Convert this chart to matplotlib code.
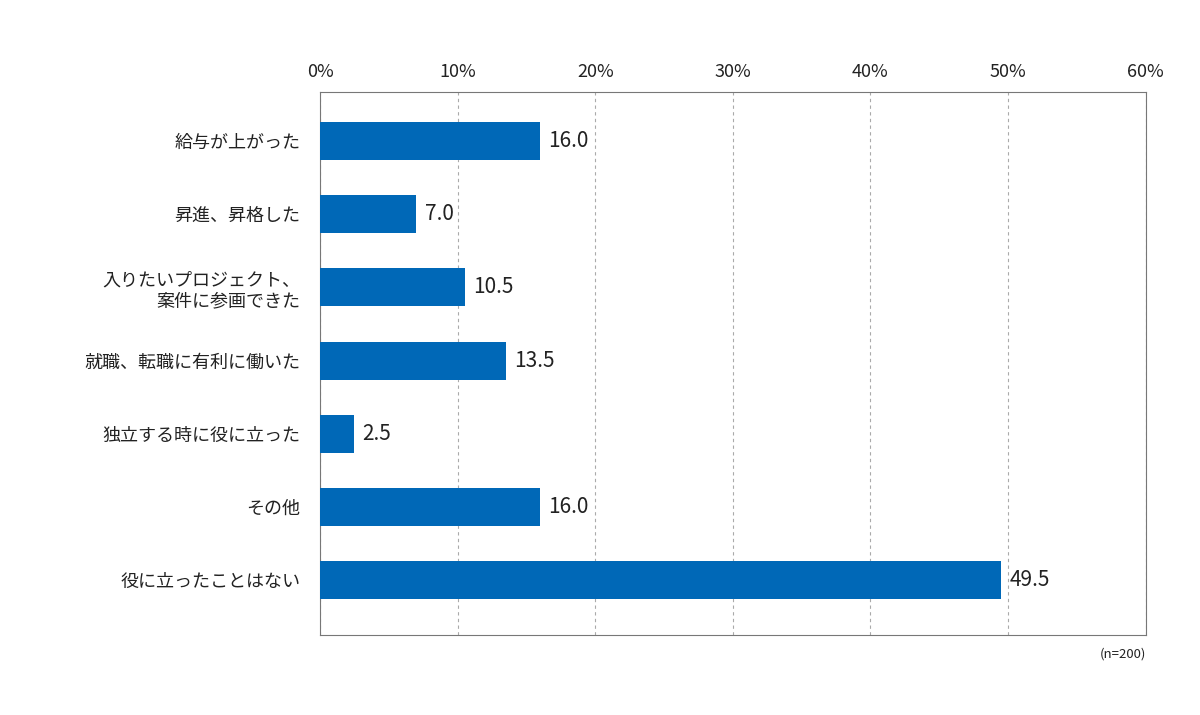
import matplotlib

matplotlib.use("Agg")

import matplotlib.pyplot as plt
from matplotlib.ticker import PercentFormatter

plt.rcParams["font.family"] = ["Noto Sans CJK JP", "DejaVu Sans"]

BAR_BLUE = "#0068B7"

categories = [
    "給与が上がった",
    "昇進、昇格した",
    "入りたいプロジェクト、\n案件に参画できた",
    "就職、転職に有利に働いた",
    "独立する時に役に立った",
    "その他",
    "役に立ったことはない",
]
values = [16.0, 7.0, 10.5, 13.5, 2.5, 16.0, 49.5]
x_ticks = [0, 10, 20, 30, 40, 50, 60]

fig = plt.figure(figsize=(12, 7.15), dpi=100)
ax = fig.add_axes([0.2667, 0.1119, 0.688, 0.7594])

ypos = list(range(len(categories)))
ax.barh(ypos, values, height=0.52, color=BAR_BLUE, zorder=3)
for y, v in zip(ypos, values):
    ax.text(v + 0.6, y, f"{v:.1f}", va="center", ha="left", fontsize=15, color="#222222")

ax.set_xlim(0, 60)
ax.set_ylim(6.75, -0.67)
ax.set_xticks(x_ticks)
ax.xaxis.set_major_formatter(PercentFormatter(decimals=0))
ax.xaxis.tick_top()
ax.tick_params(axis="x", length=0, labelsize=13, pad=8, colors="#222222")
ax.set_yticks(ypos)
ax.set_yticklabels(categories, fontsize=13, color="#222222")
ax.tick_params(axis="y", length=0, pad=14)
for lbl in ax.get_yticklabels():
    lbl.set_horizontalalignment("right")
    lbl.set_multialignment("right")

ax.grid(True, axis="x", color="#aaaaaa", linestyle=(0, (3, 3)), linewidth=0.8, zorder=0)
for s in ax.spines.values():
    s.set_color("#777777")
    s.set_linewidth(0.8)

fig.text(0.955, 0.085, "(n=200)", ha="right", va="center", fontsize=9.5, color="#222222")

fig.savefig("out.png", dpi=100, facecolor="white")
